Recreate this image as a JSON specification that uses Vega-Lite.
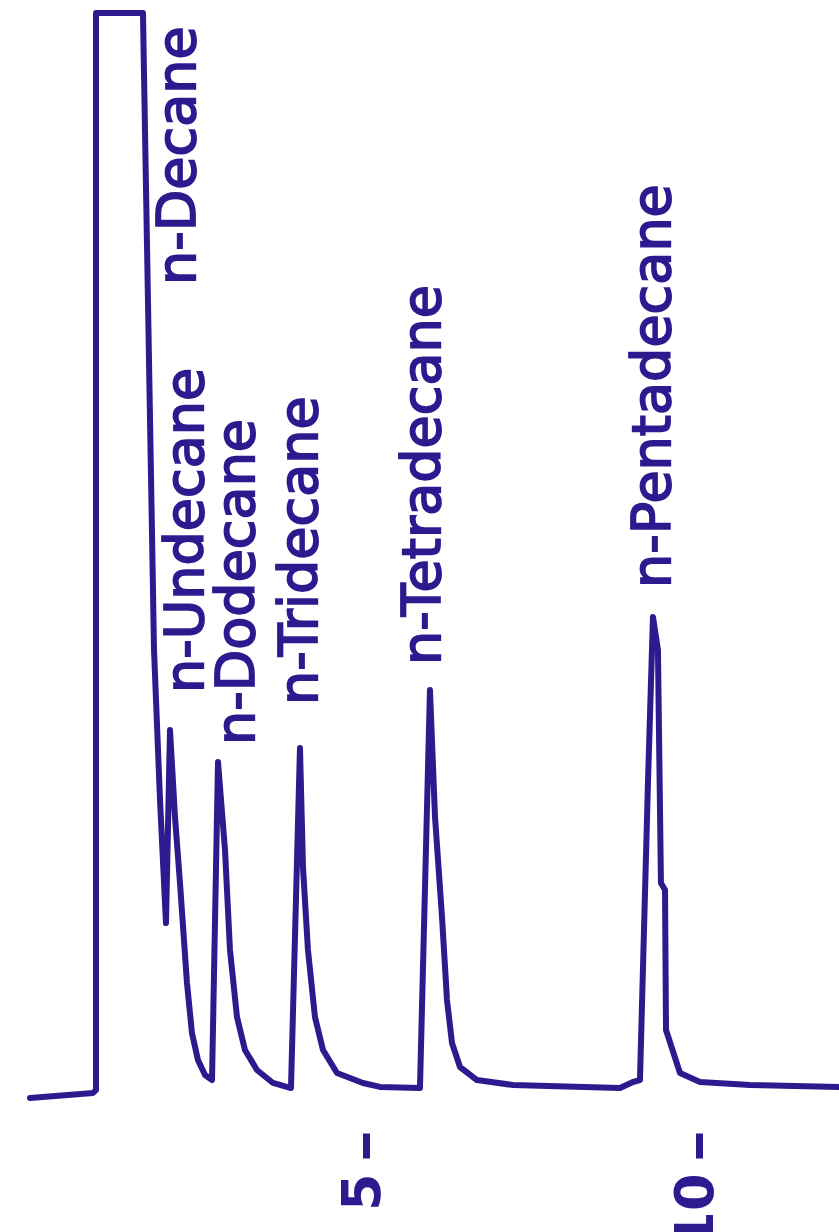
{
  "$schema": "https://vega.github.io/schema/vega-lite/v6.json",
  "width": 839,
  "height": 1232,
  "autosize": {"type": "none"},
  "padding": 0,
  "background": "white",
  "config": {"view": {"stroke": null}},
  "datasets": {
    "trace": [
      {"i": 1, "t": -0.049, "v": -0.82},
      {"i": 2, "t": 0.897, "v": -0.35},
      {"i": 3, "t": 0.942, "v": -0.07},
      {"i": 4, "t": 0.942, "v": 99.8},
      {"i": 5, "t": 1.647, "v": 99.8},
      {"i": 6, "t": 1.722, "v": 73.18},
      {"i": 7, "t": 1.813, "v": 40.73},
      {"i": 8, "t": 1.903, "v": 26.82},
      {"i": 9, "t": 1.993, "v": 15.41},
      {"i": 10, "t": 2.053, "v": 33.31},
      {"i": 11, "t": 2.128, "v": 25.24},
      {"i": 12, "t": 2.203, "v": 19.12},
      {"i": 13, "t": 2.308, "v": 9.85},
      {"i": 14, "t": 2.383, "v": 5.21},
      {"i": 15, "t": 2.473, "v": 2.71},
      {"i": 16, "t": 2.579, "v": 1.32},
      {"i": 17, "t": 2.684, "v": 0.85},
      {"i": 18, "t": 2.774, "v": 30.34},
      {"i": 19, "t": 2.879, "v": 22.18},
      {"i": 20, "t": 2.954, "v": 12.91},
      {"i": 21, "t": 3.059, "v": 6.7},
      {"i": 22, "t": 3.179, "v": 3.64},
      {"i": 23, "t": 3.359, "v": 1.78},
      {"i": 24, "t": 3.6, "v": 0.58},
      {"i": 25, "t": 3.87, "v": 0.11},
      {"i": 26, "t": 4.005, "v": 31.64},
      {"i": 27, "t": 4.05, "v": 20.61},
      {"i": 28, "t": 4.125, "v": 12.91},
      {"i": 29, "t": 4.23, "v": 6.7},
      {"i": 30, "t": 4.351, "v": 3.64},
      {"i": 31, "t": 4.561, "v": 1.5},
      {"i": 32, "t": 4.951, "v": 0.58},
      {"i": 33, "t": 5.207, "v": 0.21},
      {"i": 34, "t": 5.807, "v": 0.11},
      {"i": 35, "t": 5.957, "v": 37.02},
      {"i": 36, "t": 6.033, "v": 25.24},
      {"i": 37, "t": 6.138, "v": 15.97},
      {"i": 38, "t": 6.213, "v": 8.27},
      {"i": 39, "t": 6.288, "v": 4.29},
      {"i": 40, "t": 6.408, "v": 2.06},
      {"i": 41, "t": 6.663, "v": 0.85},
      {"i": 42, "t": 7.204, "v": 0.39},
      {"i": 43, "t": 8.811, "v": 0.11},
      {"i": 44, "t": 9.006, "v": 0.67},
      {"i": 45, "t": 9.111, "v": 0.85},
      {"i": 46, "t": 9.231, "v": 28.4},
      {"i": 47, "t": 9.306, "v": 43.79},
      {"i": 48, "t": 9.381, "v": 40.73},
      {"i": 49, "t": 9.426, "v": 19.12},
      {"i": 50, "t": 9.487, "v": 18.47},
      {"i": 51, "t": 9.502, "v": 5.49},
      {"i": 52, "t": 9.712, "v": 1.5},
      {"i": 53, "t": 10.012, "v": 0.67},
      {"i": 54, "t": 10.763, "v": 0.39},
      {"i": 55, "t": 12.099, "v": 0.21}
    ],
    "peaks": [
      {"name": "n-Decane", "t": 2.428, "v": 74.57},
      {"name": "n-Undecane", "t": 2.548, "v": 36.74},
      {"name": "n-Dodecane", "t": 3.314, "v": 31.92},
      {"name": "n-Tridecane", "t": 4.26, "v": 35.63},
      {"name": "n-Tetradecane", "t": 6.108, "v": 39.34},
      {"name": "n-Pentadecane", "t": 9.562, "v": 46.48}
    ]
  },
  "layer": [
    {
      "data": {"name": "trace"},
      "mark": {"type": "line", "color": "#2b1b8f", "strokeWidth": 6, "strokeJoin": "round", "strokeCap": "round", "clip": false},
      "encoding": {
        "x": {
          "field": "t", "type": "quantitative",
          "scale": {"domain": [-0.5, 12.1], "nice": false, "zero": false},
          "axis": {
            "values": [5, 10], "format": "d", "title": null, "domain": false, "grid": false,
            "offset": -99, "tickSize": 25, "tickWidth": 7, "tickColor": "#2b1b8f",
            "labelAngle": 270, "labelFontSize": 54, "labelFont": "DejaVu Sans", "labelFontWeight": "bold",
            "labelColor": "#2b1b8f", "labelPadding": 15, "labelOffset": -3, "labelOverlap": false, "labelFlush": false
          }
        },
        "y": {
          "field": "v", "type": "quantitative",
          "scale": {"domain": [-13.24, 101], "nice": false, "zero": false},
          "axis": null
        },
        "order": {"field": "i", "type": "quantitative"}
      }
    },
    {
      "data": {"name": "peaks"},
      "mark": {"type": "text", "angle": 270, "align": "left", "baseline": "alphabetic", "font": "DejaVu Sans", "fontSize": 54, "color": "#2b1b8f", "stroke": "#2b1b8f", "strokeWidth": 1.8},
      "encoding": {
        "x": {"field": "t", "type": "quantitative"},
        "y": {"field": "v", "type": "quantitative"},
        "text": {"field": "name"}
      }
    }
  ]
}
